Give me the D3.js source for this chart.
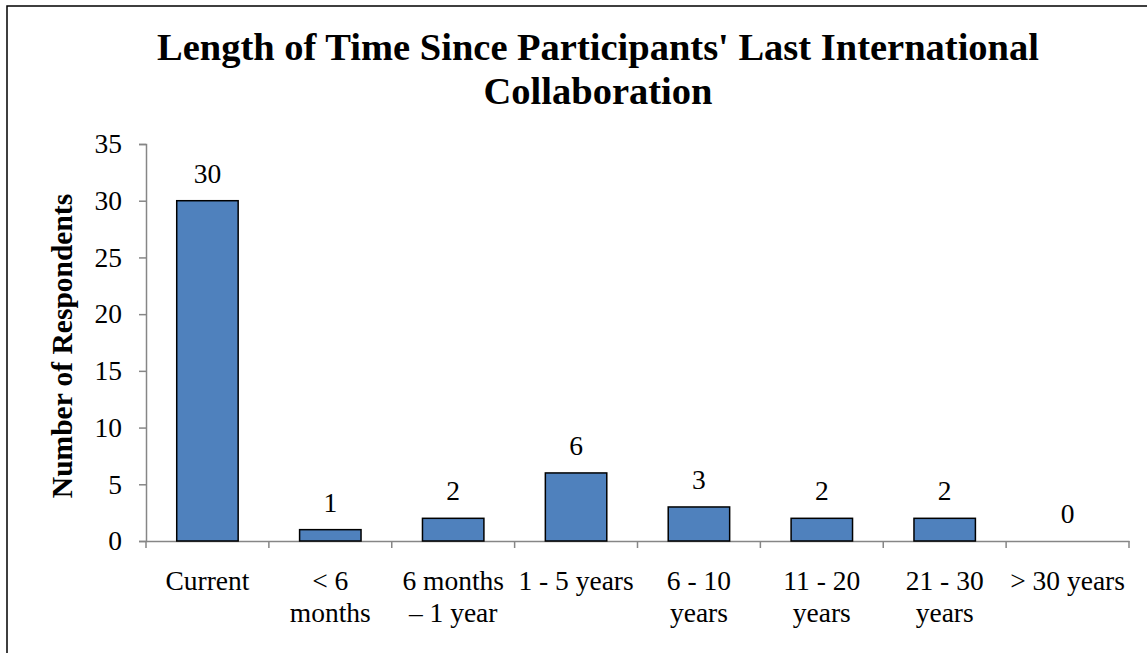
<!DOCTYPE html>
<html>
<head>
<meta charset="utf-8">
<script src="https://cdn.jsdelivr.net/npm/d3@7"></script>
<style>
  body { margin: 0; background: #fff; overflow: hidden; }
  text { font-family: "Liberation Serif", "Times New Roman", serif; }
</style>
</head>
<body>
<div id="chart"></div>
<script>
// データ
const categories = ["Current", "< 6 months", "6 months – 1 year", "1 - 5 years", "6 - 10 years", "11 - 20 years", "21 - 30 years", "> 30 years"];
const labelLines = [["Current"], ["< 6", "months"], ["6 months", "– 1 year"], ["1 - 5 years"], ["6 - 10", "years"], ["11 - 20", "years"], ["21 - 30", "years"], ["> 30 years"]];
const respondents = [30, 1, 2, 6, 3, 2, 2, 0];
const yTicks = [0, 5, 10, 15, 20, 25, 30, 35];

const width = 1147, height = 653;
const svg = d3.select("#chart").append("svg")
  .attr("width", width)
  .attr("height", height)
  .style("display", "block");

// 外枠 (右と下は画像外)
svg.append("rect")
  .attr("x", 7).attr("y", 6)
  .attr("width", 1300).attr("height", 800)
  .attr("fill", "none")
  .attr("stroke", "#000")
  .attr("stroke-width", 1.5);

// タイトル
const title = svg.append("text")
  .attr("text-anchor", "middle")
  .attr("font-size", 38.5)
  .attr("font-weight", "bold");
title.append("tspan").attr("x", 598).attr("y", 60).text("Length of Time Since Participants' Last International");
title.append("tspan").attr("x", 598).attr("y", 104).text("Collaboration");

const x0 = 146, x1 = 1129, yTop = 144, yBase = 541;

const xScale = d3.scaleBand()
  .domain(categories)
  .range([x0, x1])
  .paddingInner(0.5)
  .paddingOuter(0.25);

const yScale = d3.scaleLinear()
  .domain([0, 35])
  .range([yBase, yTop]);

// y軸
const yAxis = svg.append("g")
  .attr("transform", `translate(${x0},0)`)
  .call(d3.axisLeft(yScale).tickValues(yTicks).tickSize(7).tickPadding(17));
yAxis.select(".domain").attr("stroke", "#868686").attr("stroke-width", 1.5);
yAxis.selectAll(".tick line").attr("stroke", "#868686").attr("stroke-width", 1.5);
yAxis.selectAll(".tick text")
  .attr("font-family", "Liberation Serif, Times New Roman, serif")
  .attr("font-size", 27.5)
  .attr("fill", "#000");

// x軸
const xAxis = svg.append("g")
  .attr("transform", `translate(0,${yBase})`)
  .call(d3.axisBottom(xScale).tickSize(0).tickFormat(""));
xAxis.select(".domain").attr("stroke", "#868686").attr("stroke-width", 1.5);
xAxis.selectAll(".tick").remove();

// x軸の目盛り (カテゴリ境界)
const bounds = d3.range(categories.length + 1).map(i => x0 + i * (x1 - x0) / categories.length);
svg.append("g").selectAll("line")
  .data(bounds)
  .enter()
  .append("line")
  .attr("x1", d => d).attr("x2", d => d)
  .attr("y1", yBase).attr("y2", yBase + 7)
  .attr("stroke", "#868686")
  .attr("stroke-width", 1.5);

// カテゴリラベル
const xl = svg.append("g").selectAll("text")
  .data(categories)
  .enter()
  .append("text")
  .attr("text-anchor", "middle")
  .attr("font-size", 27.5)
  .attr("fill", "#000");
xl.each(function (d, i) {
  const t = d3.select(this);
  const cx = xScale(d) + xScale.bandwidth() / 2;
  labelLines[i].forEach((line, j) => {
    t.append("tspan").attr("x", cx).attr("y", 590 + j * 32).text(line);
  });
});

// 棒グラフ
svg.selectAll(".bar")
  .data(respondents)
  .enter()
  .append("rect")
  .attr("class", "bar")
  .attr("x", (d, i) => xScale(categories[i]))
  .attr("y", d => yScale(d))
  .attr("width", xScale.bandwidth())
  .attr("height", d => yBase - yScale(d))
  .attr("fill", "#4F81BD")
  .attr("stroke", "#000")
  .attr("stroke-width", 1.5)
  .style("display", d => d === 0 ? "none" : null);

// 値ラベル
svg.selectAll(".val")
  .data(respondents)
  .enter()
  .append("text")
  .attr("class", "val")
  .attr("text-anchor", "middle")
  .attr("font-size", 27.5)
  .attr("x", (d, i) => xScale(categories[i]) + xScale.bandwidth() / 2)
  .attr("y", d => yScale(d) - 18)
  .text(d => d);

// y軸タイトル
svg.append("text")
  .attr("transform", "translate(72,346) rotate(-90)")
  .attr("text-anchor", "middle")
  .attr("font-size", 29.5)
  .attr("font-weight", "bold")
  .text("Number of Respondents");
</script>
</body>
</html>
